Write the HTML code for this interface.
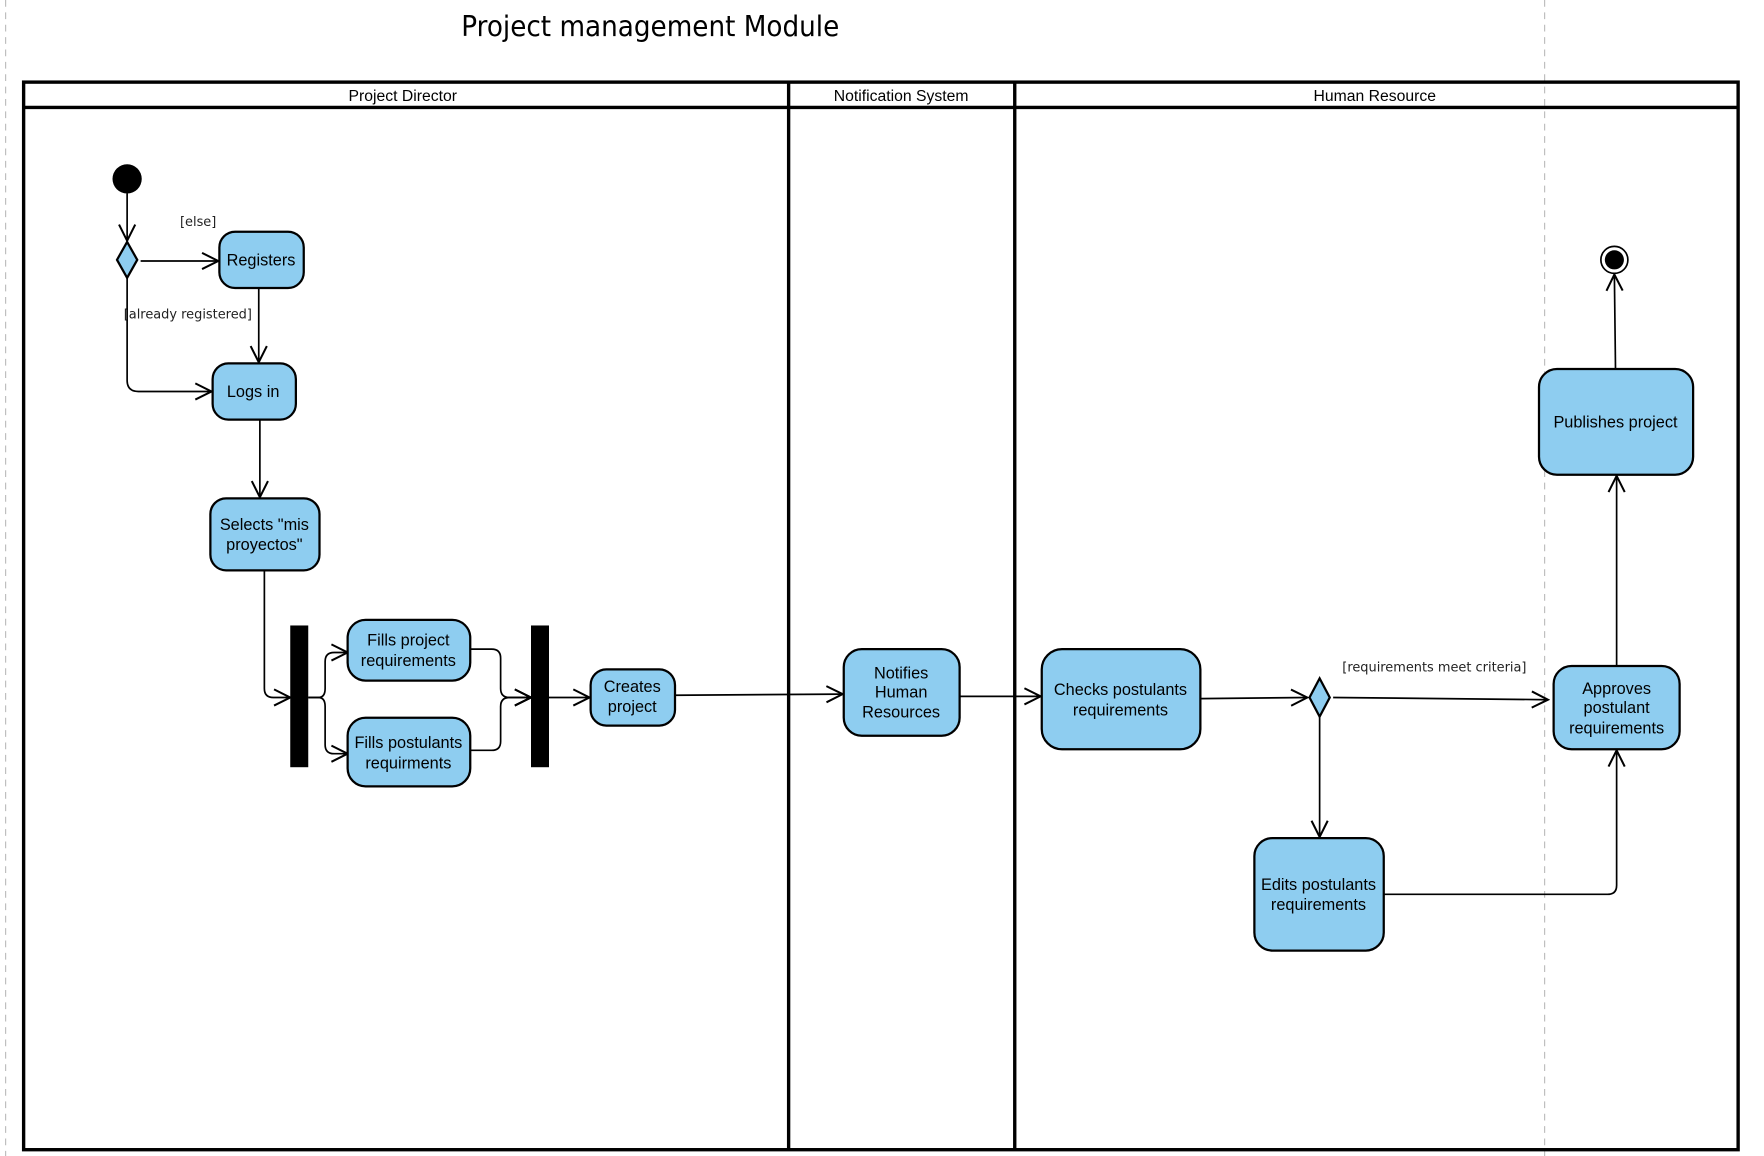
<!DOCTYPE html>
<html><head><meta charset="utf-8"><style>
html,body{margin:0;padding:0;background:#fff;}
svg{display:block;}
.b{fill:#8ECDF0;stroke:#000;stroke-width:2;}
.t{font-family:"Liberation Sans",sans-serif;font-size:14.5px;fill:#000;text-anchor:middle;}
.g{font-family:"DejaVu Sans","Liberation Sans",sans-serif;font-size:11.5px;fill:#222;}
.c{fill:none;stroke:#000;stroke-width:1.5;}
</style></head><body>
<svg width="1764" height="1156" viewBox="0 0 1568 1027.6" preserveAspectRatio="none" xmlns="http://www.w3.org/2000/svg">
<defs>
<marker id="a" viewBox="0 0 20 20" refX="18" refY="10" markerWidth="18" markerHeight="18" markerUnits="userSpaceOnUse" orient="auto">
<path d="M2,2 L18,10 L2,18" fill="none" stroke="#000" stroke-width="2"/>
</marker>
</defs>
<line x1="5" y1="0" x2="5" y2="1028" stroke="#bbb" stroke-dasharray="6,5"/>
<line x1="1373" y1="0" x2="1373" y2="1028" stroke="#bbb" stroke-dasharray="6,5"/>
<text x="410" y="32" textLength="336" lengthAdjust="spacingAndGlyphs" style="font-family:'DejaVu Sans','Liberation Sans',sans-serif;font-size:25px;">Project management Module</text>
<rect x="21" y="73" width="1524" height="949" fill="none" stroke="#000" stroke-width="3"/>
<line x1="21" y1="95.5" x2="1545" y2="95.5" stroke="#000" stroke-width="3"/>
<line x1="701" y1="73" x2="701" y2="1022" stroke="#000" stroke-width="3"/>
<line x1="902" y1="73" x2="902" y2="1022" stroke="#000" stroke-width="3"/>
<text class="t" x="358" y="90" style="font-size:14px">Project Director</text>
<text class="t" x="801" y="90" style="font-size:14px">Notification System</text>
<text class="t" x="1222" y="90" style="font-size:14px">Human Resource</text>

<circle cx="113" cy="159" r="13" fill="#000"/>
<line class="c" x1="113" y1="172" x2="113" y2="214" marker-end="url(#a)"/>
<polygon points="113,215 122,231 113,247 104,231" class="b" stroke-width="1.5"/>
<line class="c" x1="125" y1="232" x2="194" y2="232" marker-end="url(#a)"/>
<text class="g" x="160" y="201">[else]</text>
<text class="g" x="110" y="283">[already registered]</text>
<path class="c" d="M113,247 L113,338 Q113,348 123,348 L188,348" marker-end="url(#a)"/>
<rect class="b" x="195" y="206" width="75" height="50" rx="14"/>
<text class="t" x="232" y="236">Registers</text>
<line class="c" x1="230" y1="256" x2="230" y2="322" marker-end="url(#a)"/>
<rect class="b" x="189" y="323" width="74" height="50" rx="14"/>
<text class="t" x="225" y="353">Logs in</text>
<line class="c" x1="231" y1="373" x2="231" y2="442" marker-end="url(#a)"/>
<rect class="b" x="187" y="443" width="97" height="64" rx="14"/>
<text class="t" x="235" y="471">Selects "mis</text>
<text class="t" x="235" y="489">proyectos"</text>
<path class="c" d="M235,507 L235,612 Q235,620 243,620 L258,620" marker-end="url(#a)"/>
<rect x="258" y="556" width="16" height="126" fill="#000"/>
<path class="c" d="M274,620 L283,620 Q289,620 289,612 L289,588 Q289,580 297,580 L309,580" marker-end="url(#a)"/>
<path class="c" d="M274,620 L283,620 Q289,620 289,628 L289,662 Q289,670 297,670 L309,670" marker-end="url(#a)"/>
<rect class="b" x="309" y="551" width="109" height="54" rx="16"/>
<text class="t" x="363" y="574">Fills project</text>
<text class="t" x="363" y="592">requirements</text>
<rect class="b" x="309" y="638" width="109" height="61" rx="16"/>
<text class="t" x="363" y="665">Fills postulants</text>
<text class="t" x="363" y="683">requirments</text>
<path class="c" d="M418,577 L437,577 Q445,577 445,585 L445,612 Q445,620 453,620 L472,620" marker-end="url(#a)"/>
<path class="c" d="M418,667 L437,667 Q445,667 445,659 L445,628 Q445,620 453,620 L472,620" marker-end="url(#a)"/>
<rect x="472" y="556" width="16" height="126" fill="#000"/>
<line class="c" x1="488" y1="620" x2="524" y2="620" marker-end="url(#a)"/>
<rect class="b" x="525" y="595" width="75" height="50" rx="14"/>
<text class="t" x="562" y="615">Creates</text>
<text class="t" x="562" y="633">project</text>
<line class="c" x1="600" y1="618" x2="749" y2="617" marker-end="url(#a)"/>
<rect class="b" x="750" y="577" width="103" height="77" rx="16"/>
<text class="t" x="801" y="603">Notifies</text>
<text class="t" x="801" y="620">Human</text>
<text class="t" x="801" y="638">Resources</text>
<line class="c" x1="853" y1="619" x2="925" y2="619" marker-end="url(#a)"/>
<rect class="b" x="926" y="577" width="141" height="89" rx="18"/>
<text class="t" x="996" y="618">Checks postulants</text>
<text class="t" x="996" y="636">requirements</text>
<line class="c" x1="1067" y1="621" x2="1162" y2="620" marker-end="url(#a)"/>
<polygon points="1173,603 1182,620 1173,637 1164,620" class="b" stroke-width="1.5"/>
<line class="c" x1="1185" y1="620" x2="1376" y2="622" marker-end="url(#a)"/>
<text class="g" x="1275" y="597" style="text-anchor:middle">[requirements meet criteria]</text>
<line class="c" x1="1173" y1="637" x2="1173" y2="744" marker-end="url(#a)"/>
<rect class="b" x="1115" y="745" width="115" height="100" rx="16"/>
<text class="t" x="1172" y="791">Edits postulants</text>
<text class="t" x="1172" y="809">requirements</text>
<path class="c" d="M1230,795 L1429,795 Q1437,795 1437,787 L1437,667" marker-end="url(#a)"/>
<rect class="b" x="1381" y="592" width="112" height="74" rx="16"/>
<text class="t" x="1437" y="617">Approves</text>
<text class="t" x="1437" y="634">postulant</text>
<text class="t" x="1437" y="652">requirements</text>
<line class="c" x1="1437" y1="592" x2="1437" y2="423" marker-end="url(#a)"/>
<rect class="b" x="1368" y="328" width="137" height="94" rx="16"/>
<text class="t" x="1436" y="380">Publishes project</text>
<line class="c" x1="1436" y1="328" x2="1435" y2="244" marker-end="url(#a)"/>
<circle cx="1435" cy="231" r="12" fill="#fff" stroke="#000" stroke-width="1.5"/>
<circle cx="1435" cy="231" r="8.5" fill="#000"/>
</svg>
</body></html>
